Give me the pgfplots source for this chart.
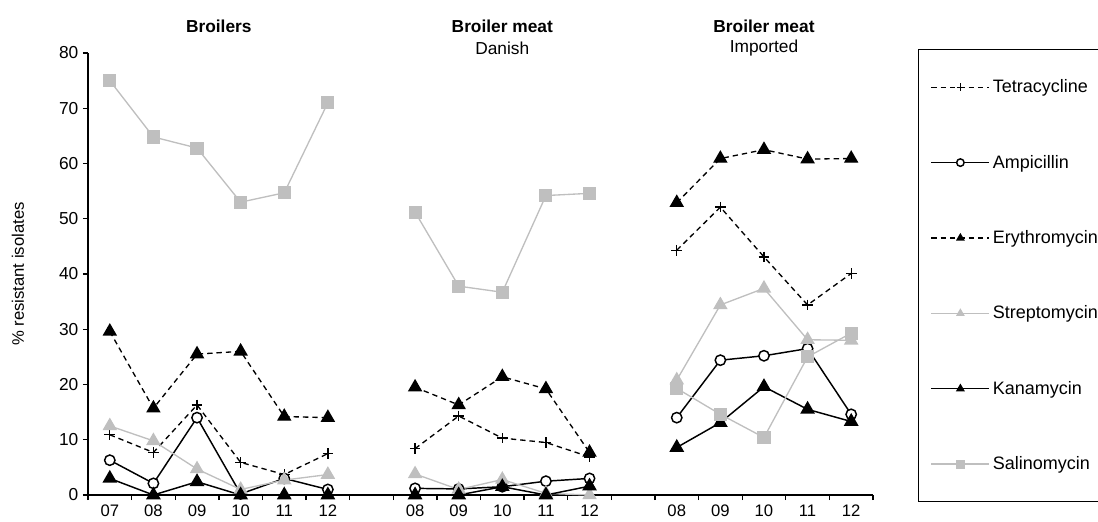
\documentclass[border=0pt]{standalone}
\usepackage{fontspec}
\setmainfont{Liberation Sans}
\usepackage{pgfplots}
\pgfplotsset{compat=1.18}
\definecolor{lgray}{RGB}{191,191,191}
\begin{document}
\begin{tikzpicture}
\begin{axis}[
  at={(0pt,0pt)}, anchor=south west,
  scale only axis, width=588.75pt, height=331.5pt,
  xmin=-0.5, xmax=17.5, ymin=0, ymax=80,
  axis x line*=bottom, axis y line*=left,
  axis line style={line width=1.1pt},
  clip=false, unbounded coords=jump,
  xtick={0,1,2,3,4,5,7,8,9,10,11,13,14,15,16,17},
  xticklabels={07,08,09,10,11,12,08,09,10,11,12,08,09,10,11,12},
  major x tick style={draw=none},
  minor xtick={-0.5,0.5,...,17.5},
  minor x tick style={draw=black, line width=1pt},
  minor tick length=3.75pt,
  ytick={0,10,...,80},
  tick align=outside, major tick length=3.75pt,
  major y tick style={black, line width=1pt},
  /pgf/number format/assume math mode=true,
  tick label style={font=\fontsize{13}{15}\selectfont},
  xticklabel style={font=\fontsize{12.5}{14}\selectfont, yshift=-0.3pt},
  ylabel={\% resistant isolates},
  ylabel style={at={(axis description cs:-0.0892,0.5)}, anchor=center, font=\fontsize{12.5}{15}\selectfont},
  legend cell align=left,
  legend image code/.code={\draw[mark repeat=2,mark phase=2] plot coordinates {(0pt,0pt) (21.75pt,0pt) (43.5pt,0pt)};},
  legend image post style={mark size=2.8pt},
  legend style={at={(rel axis cs:1.0573,1.009)}, anchor=north west, draw=black, line width=1pt,
    inner xsep=9pt, inner ysep=20.5pt, row sep=41.25pt, font=\fontsize{13.5}{15}\selectfont,
    /tikz/every even column/.append style={column sep=4pt}},
]
\addplot[black, line width=1pt, dash pattern=on 4pt off 3pt, mark=+, mark size=4pt, mark options={solid}]
 coordinates {(0,10.9)(1,7.7)(2,16.3)(3,5.9)(4,3.7)(5,7.5)(6,nan)(7,8.4)(8,14.3)(9,10.3)(10,9.5)(11,6.9)(12,nan)(13,44.3)(14,52.1)(15,43.1)(16,34.4)(17,40.1)};
\addlegendentry{Tetracycline}
\addplot[black, line width=1.1pt, mark=*, mark size=3.9pt, mark options={fill=white, draw=black}]
 coordinates {(0,6.3)(1,2.1)(2,14.0)(3,0.2)(4,3.0)(5,1.0)(6,nan)(7,1.2)(8,1.1)(9,1.5)(10,2.5)(11,3.0)(12,nan)(13,14.0)(14,24.4)(15,25.2)(16,26.5)(17,14.6)};
\addlegendentry{Ampicillin}
\addplot[black, line width=1pt, dash pattern=on 4pt off 3pt, mark=triangle*, mark size=5.3pt, mark options={solid, fill=black}]
 coordinates {(0,29.6)(1,15.7)(2,25.5)(3,26.0)(4,14.2)(5,14.0)(6,nan)(7,19.5)(8,16.3)(9,21.4)(10,19.2)(11,7.7)(12,nan)(13,52.9)(14,60.9)(15,62.5)(16,60.8)(17,60.9)};
\addlegendentry{Erythromycin}
\addplot[lgray, line width=1pt, mark=triangle*, mark size=5.3pt, mark options={fill=lgray}]
 coordinates {(0,12.5)(1,9.8)(2,4.7)(3,1.0)(4,2.7)(5,3.7)(6,nan)(7,3.8)(8,1.0)(9,2.8)(10,0.3)(11,0)(12,nan)(13,20.8)(14,34.4)(15,37.4)(16,28.1)(17,28.0)};
\addlegendentry{Streptomycin}
\addplot[black, line width=1.1pt, mark=triangle*, mark size=5.3pt, mark options={fill=black}]
 coordinates {(0,3.0)(1,0)(2,2.4)(3,0)(4,0)(5,0)(6,nan)(7,0)(8,0)(9,1.5)(10,0)(11,1.6)(12,nan)(13,8.6)(14,13.1)(15,19.6)(16,15.5)(17,13.3)};
\addlegendentry{Kanamycin}
\addplot[lgray, line width=1pt, mark=square*, mark size=4.4pt, mark options={fill=lgray}]
 coordinates {(0,75)(1,64.8)(2,62.8)(3,53)(4,54.7)(5,71)(6,nan)(7,51.2)(8,37.8)(9,36.7)(10,54.2)(11,54.6)(12,nan)(13,19.3)(14,14.6)(15,10.4)(16,25.0)(17,29.3)};
\addlegendentry{Salinomycin}
\node[font=\fontsize{13}{15}\selectfont\bfseries] at (axis cs:2.5,84.9) {Broilers};
\node[font=\fontsize{13}{15}\selectfont\bfseries] at (axis cs:9,84.9) {Broiler meat};
\node[font=\fontsize{13}{15}\selectfont] at (axis cs:9,80.9) {Danish};
\node[font=\fontsize{13}{15}\selectfont\bfseries] at (axis cs:15,84.9) {Broiler meat};
\node[font=\fontsize{13}{15}\selectfont] at (axis cs:15,80.9) {Imported};
\end{axis}
\pgfresetboundingbox
\path[use as bounding box] (-66pt,-19.5pt) rectangle (757.5pt,371.25pt);
\end{tikzpicture}
\end{document}
